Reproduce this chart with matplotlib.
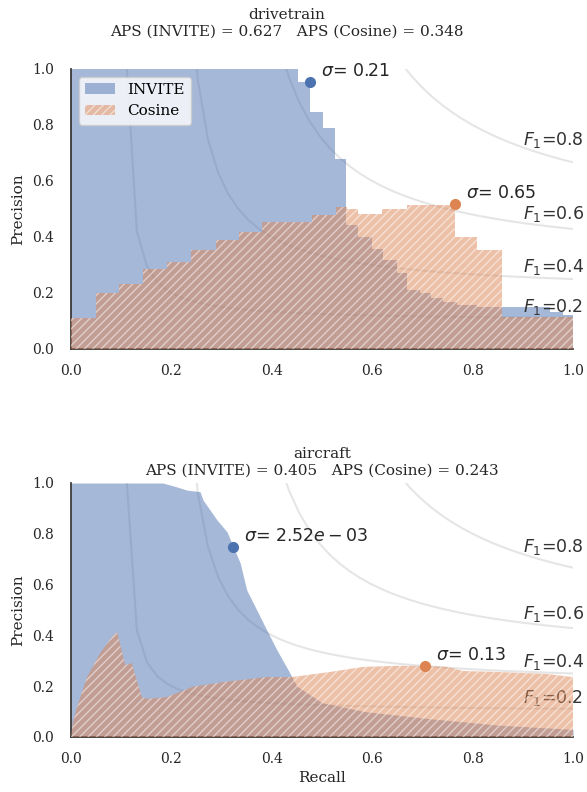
import numpy as np
import matplotlib
matplotlib.use("Agg")
import matplotlib.pyplot as plt

# drivetrain: step curves (precision holds from recall[i] to recall[i+1])
dt_inv_recall = [0.0, 0.453, 0.476, 0.502, 0.526, 0.548, 0.572, 0.599, 0.622, 0.649,
                 0.669, 0.695, 0.718, 0.742, 0.768, 0.808, 0.858, 0.954, 0.981, 1.0]
dt_inv_prec = [1.0, 0.955, 0.848, 0.788, 0.678, 0.443, 0.400, 0.357, 0.318, 0.271,
               0.211, 0.200, 0.182, 0.168, 0.157, 0.151, 0.151, 0.133, 0.121, 0.121]
dt_cos_recall = [0.0, 0.049, 0.096, 0.143, 0.191, 0.239, 0.289, 0.335, 0.380, 0.480,
                 0.528, 0.550, 0.572, 0.620, 0.669, 0.765, 0.809, 0.859, 1.0]
dt_cos_prec = [0.110, 0.200, 0.232, 0.286, 0.311, 0.352, 0.389, 0.418, 0.454, 0.479,
               0.507, 0.500, 0.482, 0.500, 0.514, 0.400, 0.354, 0.115, 0.115]

# aircraft: smooth curves
ac_inv_recall = [0.0, 0.183, 0.21, 0.231, 0.257, 0.263, 0.291, 0.311, 0.323, 0.337, 0.35,
                 0.37, 0.39, 0.41, 0.436, 0.44, 0.45, 0.5, 0.585, 0.715, 0.85, 1.0]
ac_inv_prec = [1.0, 1.0, 0.985, 0.972, 0.966, 0.933, 0.854, 0.807, 0.75, 0.685, 0.579,
               0.5, 0.421, 0.343, 0.252, 0.236, 0.2, 0.135, 0.1, 0.072, 0.047, 0.03]
ac_cos_recall = [0.0, 0.004, 0.012, 0.032, 0.058, 0.084, 0.092, 0.108, 0.121, 0.141, 0.151,
                 0.191, 0.243, 0.31, 0.39, 0.44, 0.516, 0.582, 0.649, 0.705, 0.749,
                 0.781, 0.849, 0.948, 1.0]
ac_cos_prec = [0.0, 0.06, 0.118, 0.236, 0.33, 0.40, 0.413, 0.283, 0.291, 0.157, 0.15,
               0.157, 0.198, 0.218, 0.236, 0.236, 0.256, 0.276, 0.28, 0.28, 0.276,
               0.26, 0.256, 0.248, 0.236]

panels = ["drivetrain", "aircraft"]
aps_invite = [0.627, 0.405]
aps_cosine = [0.348, 0.243]
best_inv = [(0.476, 0.955, "0.21"), (0.323, 0.75, "2.52e-03")]
best_cos = [(0.765, 0.518, "0.65"), (0.705, 0.28, "0.13")]
f_scores = [0.2, 0.4, 0.6, 0.8]

blue = "#4C72B0"
orange = "#DD8452"

plt.rcParams["font.family"] = "DejaVu Serif"
plt.rcParams["hatch.linewidth"] = 1.0

fig = plt.figure(figsize=(5.87, 7.92), dpi=100)
ax1 = fig.add_axes([71 / 587, 1 - 349 / 792, 502 / 587, 280 / 792])
ax2 = fig.add_axes([71 / 587, 1 - 737 / 792, 502 / 587, 254 / 792])

data = [
    (dt_inv_recall, dt_inv_prec, dt_cos_recall, dt_cos_prec, "post"),
    (ac_inv_recall, ac_inv_prec, ac_cos_recall, ac_cos_prec, None),
]
title_x = [0.43, 0.5]
title_pad = [24, 6]

for i, ax in enumerate([ax1, ax2]):
    r_i, p_i, r_c, p_c, st = data[i]

    # iso-F1 curves
    for f in f_scores:
        x = np.linspace(0.01, 1)
        y = f * x / (2 * x - f)
        ax.plot(x[y >= 0], y[y >= 0], color="gray", alpha=0.2, lw=1.5, zorder=1)
        ax.annotate("$F_1$={0:0.1f}".format(f), xy=(0.9, y[45] + 0.02),
                    fontsize=12.5, family="DejaVu Sans", color="0.2",
                    annotation_clip=False)

    ax.fill_between(r_i, p_i, step=st, color=blue, alpha=0.5, lw=0,
                    label="INVITE", zorder=2)
    ax.fill_between(r_c, p_c, step=st, facecolor=orange, edgecolor="white",
                    hatch="////", alpha=0.5, lw=0, label="Cosine", zorder=3)

    x, y, s = best_inv[i]
    ax.plot(x, y, "o", color=blue, ms=7, zorder=5, clip_on=False)
    ax.annotate("$\\sigma$= ${}$".format(s), xy=(x, y), xytext=(8, 4),
                textcoords="offset points", fontsize=12.5, family="DejaVu Sans",
                color="0.15")
    x, y, s = best_cos[i]
    ax.plot(x, y, "o", color=orange, ms=7, zorder=5, clip_on=False)
    ax.annotate("$\\sigma$= ${}$".format(s), xy=(x, y), xytext=(8, 4),
                textcoords="offset points", fontsize=12.5, family="DejaVu Sans",
                color="0.15")

    ax.set_xlim(0, 1)
    ax.set_ylim(0, 1)
    ax.set_xticks(np.arange(0, 1.01, 0.2))
    ax.set_yticks(np.arange(0, 1.01, 0.2))
    ax.tick_params(length=0, labelsize=10, colors="0.15", pad=10.5)
    ax.tick_params(axis="y", pad=12)
    for side in ["top", "right"]:
        ax.spines[side].set_visible(False)
    for side in ["left", "bottom"]:
        ax.spines[side].set_color("0.2")
        ax.spines[side].set_linewidth(1.25)
    ax.set_ylabel("Precision", fontsize=11, color="0.15", labelpad=5)
    ax.set_title("{}\nAPS (INVITE) = {:.3f}   APS (Cosine) = {:.3f}".format(
        panels[i], aps_invite[i], aps_cosine[i]), fontsize=11, color="0.15",
        x=title_x[i], pad=title_pad[i])

ax1.legend(loc="upper left", fontsize=11, framealpha=0.8, edgecolor="0.8")
ax2.set_xlabel("Recall", fontsize=11, color="0.15", labelpad=4)

fig.savefig("out.png", dpi=100)
